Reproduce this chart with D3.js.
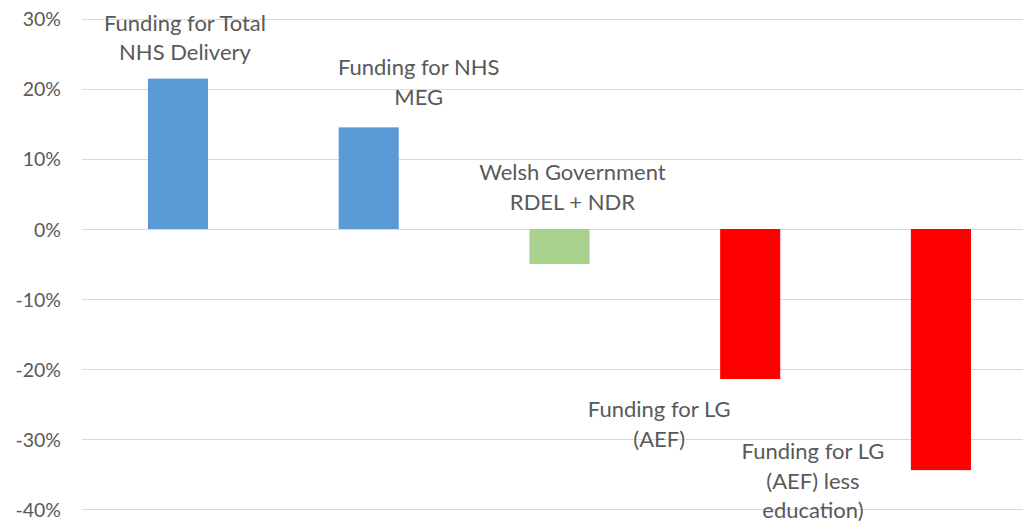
<!DOCTYPE html>
<html><head><meta charset="utf-8">
<script src="https://cdn.jsdelivr.net/npm/d3@7"></script>
<style>html,body{margin:0;padding:0;background:#fff;}svg{display:block;}</style>
</head><body>
<svg id="chart" width="1023" height="522"></svg>
<script>
const categories = ["Funding for Total NHS Delivery","Funding for NHS MEG","Welsh Government RDEL + NDR","Funding for LG (AEF)","Funding for LG (AEF) less education)"];
const values = [0.2145, 0.145, -0.050, -0.214, -0.344];
const barColors = ["#5b9bd5","#5b9bd5","#a9d18e","#ff0000","#ff0000"];
const labelLines = [["Funding for Total","NHS Delivery"],["Funding for NHS","MEG"],["Welsh Government","RDEL + NDR"],["Funding for LG","(AEF)"],["Funding for LG","(AEF) less","education)"]];
const labelValues = [0.2825, 0.2195, 0.0699, -0.2685, -0.3285];
const labelOffsets = [7, 50, 13, -91, -128];
const yTicks = [-0.4,-0.3,-0.2,-0.1,0,0.1,0.2,0.3];

const svg = d3.select("#chart");
const font = "Lato, sans-serif";
const x = d3.scaleBand().domain(categories).range([82.6, 1036.3]).paddingInner(0.685).paddingOuter(0.3425);
const y = d3.scaleLinear().domain([-0.4, 0.3]).range([509.4, 18.7]);

// gridlines
svg.append("g").selectAll("line").data(yTicks).join("line")
  .attr("x1", 82).attr("x2", 1023)
  .attr("y1", d => Math.round(y(d)) + 0.5).attr("y2", d => Math.round(y(d)) + 0.5)
  .attr("stroke", "#d9d9d9").attr("stroke-width", 1);

// y axis
const fmt = d => Math.round(d * 100) + "%";
const yAxis = d3.axisLeft(y).tickValues(yTicks).tickFormat(fmt).tickSize(0).tickPadding(0);
const ga = svg.append("g").attr("transform", "translate(61,0)").call(yAxis);
ga.select(".domain").remove();
ga.selectAll("text").attr("fill", "#595959").style("font-family", font).style("font-size", "19.5px").attr("dy", "0.36em");

// bars
svg.append("g").selectAll("rect").data(categories).join("rect")
  .attr("x", d => x(d)).attr("width", x.bandwidth())
  .attr("y", (d, i) => y(Math.max(0, values[i])))
  .attr("height", (d, i) => Math.abs(y(values[i]) - y(0)))
  .attr("fill", (d, i) => barColors[i]);

// labels
const lg = svg.append("g");
categories.forEach((c, i) => {
  const cx = x(c) + x.bandwidth() / 2 + labelOffsets[i];
  const t = lg.append("text").attr("text-anchor", "middle").attr("fill", "#595959")
    .style("font-family", font).style("font-size", "22px");
  labelLines[i].forEach((ln, j) => {
    t.append("tspan").attr("x", cx).attr("y", y(labelValues[i]) + j * 29.5).text(ln);
  });
});
</script>
</body></html>
